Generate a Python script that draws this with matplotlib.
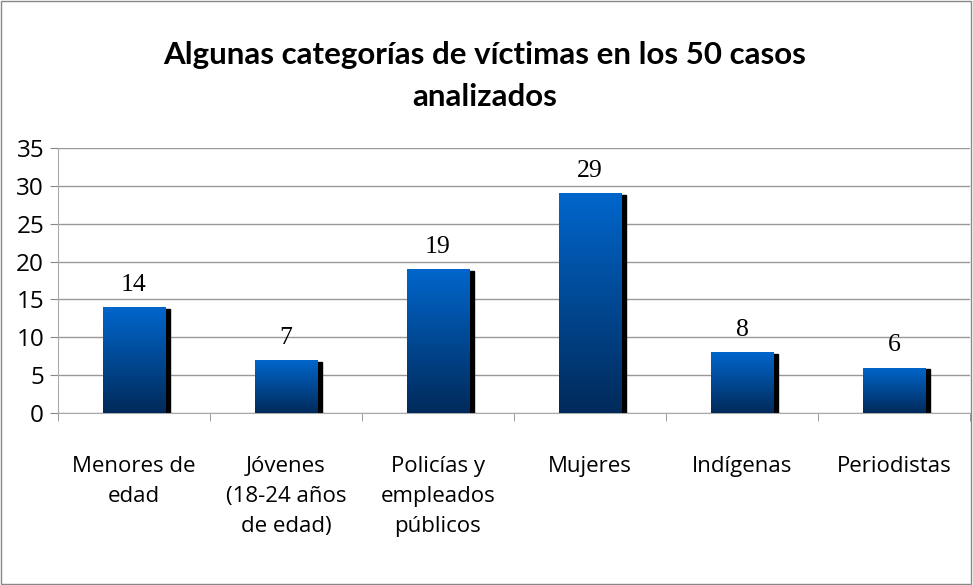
import numpy as np
import matplotlib.pyplot as plt
from matplotlib.colors import LinearSegmentedColormap
from matplotlib.patches import Rectangle

categories = ['Menores de\nedad', 'Jóvenes\n(18-24 años\nde edad)', 'Policías y\nempleados\npúblicos',
              'Mujeres', 'Indígenas', 'Periodistas']
values = [14, 7, 19, 29, 8, 6]

fig = plt.figure(figsize=(9.73, 5.85), dpi=100)
fig.patches.append(Rectangle((0.001, 0.001), 0.997, 0.997, transform=fig.transFigure,
                             fill=False, edgecolor='#888888', lw=1))
ax = fig.add_axes([58 / 973, (585 - 413) / 585, 912 / 973, 265 / 585])

x = np.arange(len(values))
width = 0.41
cmap = LinearSegmentedColormap.from_list('bar', ['#002a5a', '#0066cc'])
grad = np.linspace(0, 1, 256).reshape(-1, 1)

for xi, v in zip(x, values):
    # shadow
    ax.add_patch(Rectangle((xi - width / 2 + 0.03, 0), width, v - 0.25, color='black', zorder=2))
    bar = ax.bar(xi, v, width, color='none', zorder=3)[0]
    im = ax.imshow(grad, cmap=cmap, origin='lower', aspect='auto', zorder=3,
                   extent=[xi - width / 2, xi + width / 2, 0, v])
    im.set_clip_path(bar)
    ax.text(xi, v + 1.5, str(v), ha='center', va='bottom', fontsize=18.5,
            family='Liberation Serif')

ax.set_xlim(-0.5, len(values) - 0.5)
ax.set_ylim(0, 35)
ax.set_yticks(range(0, 36, 5))
ax.set_yticklabels([str(t) for t in range(0, 36, 5)], fontsize=17.5, family='Open Sans')
ax.set_xticks(x)
ax.set_xticklabels(categories, fontsize=16, family='Open Sans', linespacing=1.55, va='top')
ax.set_xticks(np.arange(len(values) + 1) - 0.5, minor=True)
ax.tick_params(axis='x', which='major', length=0, pad=31)
ax.tick_params(axis='x', which='minor', length=6, color='#888888')
ax.tick_params(axis='y', length=6, color='#888888', pad=4)

ax.grid(axis='y', color='#999999', lw=1, zorder=0)
for s in ['top', 'right']:
    ax.spines[s].set_visible(False)
ax.spines['left'].set_color('#aaaaaa')
ax.spines['bottom'].set_color('#aaaaaa')

fig.text(485 / 973, 1 - 55 / 585, 'Algunas categorías de víctimas en los 50 casos',
         ha='center', va='center', fontsize=22.5, fontweight='bold', family='Lato')
fig.text(485 / 973, 1 - 97 / 585, 'analizados',
         ha='center', va='center', fontsize=22.5, fontweight='bold', family='Lato')

fig.savefig('out.png', dpi=100)
